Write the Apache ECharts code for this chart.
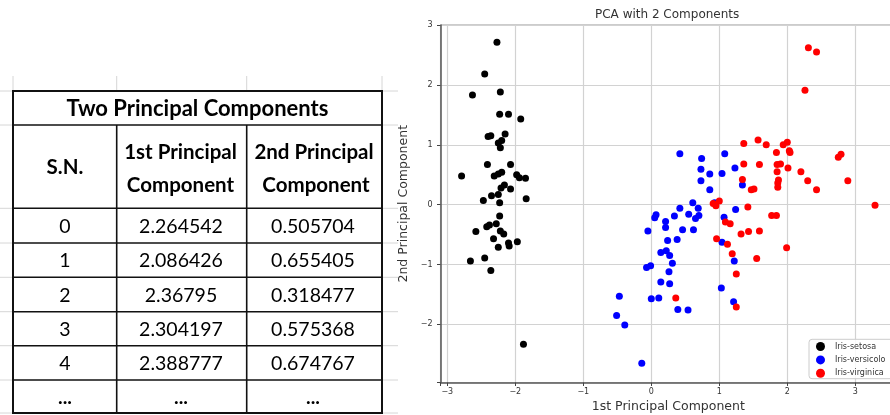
<!DOCTYPE html>
<html>
<head>
<meta charset="utf-8">
<script src="https://cdn.jsdelivr.net/npm/echarts@6/dist/echarts.min.js"></script>
<style>
html,body{margin:0;padding:0;background:#fff;}
#main{width:890px;height:415px;}
</style>
</head>
<body>
<div id="main"></div>
<script>
// ---- Table data ----
const tableTitle = 'Two Principal Components';
const headSN = 'S.N.';
const headPC1 = ['1st Principal', 'Component'];
const headPC2 = ['2nd Principal', 'Component'];
const rowSN  = ['0', '1', '2', '3', '4', '...'];
const rowPC1 = ['2.264542', '2.086426', '2.36795', '2.304197', '2.388777', '...'];
const rowPC2 = ['0.505704', '0.655405', '0.318477', '0.575368', '0.674767', '...'];

// ---- Scatter data ----
const chartTitle = 'PCA with 2 Components';
const xName = '1st Principal Component';
const yName = '2nd Principal Component';
const speciesNames = ['Iris-setosa', 'Iris-versicolor', 'Iris-virginica'];
const setosa = [
 [-2.27,2.71],[-2.45,2.18],[-2.63,1.83],[-2.22,1.88],[-2.23,1.51],[-2.10,1.51],[-1.92,1.43],
 [-2.40,1.14],[-2.36,1.15],[-2.15,1.18],[-2.20,1.07],[-2.25,1.03],[-2.22,0.95],[-2.41,0.67],
 [-2.07,0.67],[-2.79,0.48],[-2.31,0.48],[-2.25,0.51],[-2.20,0.54],[-1.98,0.50],[-1.94,0.45],
 [-1.85,0.44],[-2.16,0.33],[-2.21,0.28],[-2.07,0.26],[-2.35,0.15],[-2.25,0.17],[-2.47,0.07],
 [-2.23,0.03],[-1.84,0.10],[-2.23,-0.19],[-2.28,-0.32],[-2.38,-0.34],[-2.42,-0.37],[-2.58,-0.45],
 [-2.22,-0.44],[-2.17,-0.49],[-2.32,-0.57],[-2.10,-0.64],[-2.09,-0.69],[-1.97,-0.62],[-2.25,-0.71],
 [-2.45,-0.89],[-2.66,-0.94],[-2.36,-1.10],[-1.88,-2.33]
];
const versicolor = [
 [0.42,0.85],[0.74,0.77],[1.08,0.85],[0.73,0.59],[0.86,0.51],[1.04,0.52],[1.23,0.61],[0.73,0.40],
 [0.86,0.25],[1.34,0.33],[0.61,0.03],[0.42,-0.06],[0.69,-0.06],[0.93,0.03],[1.24,-0.08],[0.07,-0.17],
 [0.05,-0.22],[0.34,-0.19],[0.55,-0.16],[0.70,-0.18],[0.65,-0.23],[0.21,-0.28],[0.21,-0.38],[-0.05,-0.44],
 [0.46,-0.42],[0.62,-0.42],[1.07,-0.21],[0.24,-0.60],[0.38,-0.58],[1.04,-0.63],[0.14,-0.80],[0.22,-0.77],
 [0.27,-0.85],[0.31,-0.98],[-0.07,-1.05],[-0.01,-1.02],[0.26,-1.12],[0.14,-1.29],[0.27,-1.32],[1.22,-0.94],
 [1.03,-1.39],[-0.47,-1.53],[0.00,-1.57],[0.11,-1.56],[1.21,-1.62],[0.39,-1.75],[0.54,-1.76],[-0.51,-1.85],
 [-0.39,-2.01],[-0.14,-2.65]
];
const virginica = [
 [2.31,2.62],[2.43,2.55],[2.26,1.91],[1.57,1.08],[1.36,1.02],[1.69,1.00],[1.94,1.00],[2.00,1.04],
 [2.03,0.90],[2.04,0.87],[1.84,0.87],[2.79,0.84],[2.75,0.79],[1.36,0.68],[1.59,0.67],[1.85,0.67],
 [1.90,0.68],[2.01,0.61],[1.85,0.55],[2.20,0.55],[1.34,0.42],[1.87,0.41],[1.86,0.36],[2.30,0.40],
 [2.89,0.40],[1.47,0.25],[1.51,0.26],[1.86,0.29],[2.43,0.25],[1.42,-0.04],[3.29,-0.01],[0.91,0.02],
 [0.95,-0.02],[1.00,0.06],[1.09,-0.29],[1.16,-0.32],[1.32,-0.49],[1.43,-0.45],[0.96,-0.57],[1.12,-0.66],
 [1.77,-0.18],[1.84,-0.18],[1.59,-0.44],[1.19,-0.82],[1.55,-0.90],[1.25,-1.16],[0.36,-1.56],[1.25,-1.71],
 [1.99,-0.72]
];
const xMin = -3.1, xMax = 3.6, yMin = -2.97, yMax = 3.0;

// ---- Table layout ----
const TL = 13, TR = 382, TT = 91, TB = 413;
const colX = [116.7, 246.7];
const rowLines = [125, 208.3, 243, 277.3, 311.7, 345.7, 380];
const colCenter = [65, 181, 313];
const rowCenter = [227, 261, 296, 330, 364, 398];
const FONT = 'Lato, "Open Sans", sans-serif';
const faint = '#d6d6d6';

const g = [];
// faint spreadsheet lines
[TT, 125, 208.3, 243, 277.3, 311.7, 345.7, 380, TB].forEach(y => {
  g.push({type:'line', shape:{x1:0,y1:y,x2:TL,y2:y}, style:{stroke:faint,lineWidth:1}, silent:true});
  g.push({type:'line', shape:{x1:TR,y1:y,x2:398,y2:y}, style:{stroke:faint,lineWidth:1}, silent:true});
});
[TL, 116.7, 246.7, TR].forEach(x => {
  g.push({type:'line', shape:{x1:x,y1:76,x2:x,y2:TT}, style:{stroke:faint,lineWidth:1}, silent:true});
});
// borders
g.push({type:'rect', shape:{x:TL,y:TT,width:TR-TL,height:TB-TT}, style:{fill:'none',stroke:'#111',lineWidth:2}, silent:true});
rowLines.forEach(y => g.push({type:'line', shape:{x1:TL,y1:y,x2:TR,y2:y}, style:{stroke:'#111',lineWidth:1.6}, silent:true}));
colX.forEach(x => g.push({type:'line', shape:{x1:x,y1:125,x2:x,y2:TB}, style:{stroke:'#111',lineWidth:1.6}, silent:true}));
function txt(t, x, y, size, bold) {
  g.push({type:'text', x:x, y:y, silent:true,
    style:{text:t, fill:'#000', fontSize:size, fontFamily:FONT, fontWeight:bold?'bold':'normal', align:'center', verticalAlign:'middle'}});
}
txt(tableTitle, (TL+TR)/2, 109, 22, true);
txt(headSN, colCenter[0], 167, 20.5, true);
txt(headPC1[0], 180.5, 152, 20.5, true);
txt(headPC1[1], 180.5, 185, 20.5, true);
txt(headPC2[0], 314, 152, 20.5, true);
txt(headPC2[1], 316, 185, 20.5, true);
rowSN.forEach((v,i) => txt(v, colCenter[0], rowCenter[i], 19.5, v==='...'));
rowPC1.forEach((v,i) => txt(v, colCenter[1], rowCenter[i], 19.5, v==='...'));
rowPC2.forEach((v,i) => txt(v, colCenter[2], rowCenter[i], 19.5, v==='...'));

// legend frame (extends past the right edge like the reference)
g.push({type:'rect', z: 3, silent:true, shape:{x:809, y:339.3, width:120, height:39.4, r:3},
  style:{fill:'rgba(255,255,255,0.85)', stroke:'#cccccc', lineWidth:1}});

const AX_FONT = '"DejaVu Sans", sans-serif';
const intLabel = v => (Math.abs(v - Math.round(v)) < 1e-6 ? String(Math.round(v)).replace('-', '\u2212') : '');

const chart = echarts.init(document.getElementById('main'), null, {renderer:'canvas'});
chart.setOption({
  animation: false,
  backgroundColor: '#fff',
  title: {
    text: chartTitle, left: 595, top: 9, padding: 0,
    textStyle: {fontFamily: AX_FONT, fontSize: 12, fontWeight: 'normal', color: '#333'}
  },
  legend: {
    data: speciesNames, orient: 'vertical', left: 816, top: 340, z: 6,
    icon: 'circle', itemWidth: 9, itemHeight: 9, itemGap: 3.4,
    padding: [1.5, 0, 2, 0],
    borderWidth: 0, backgroundColor: 'transparent',
    textStyle: {fontFamily: AX_FONT, fontSize: 8, color: '#333', lineHeight: 10,
                padding: [0, 0, 0, 5], width: 54, overflow: 'truncate', ellipsis: ''}
  },
  grid: {left: 440.5, top: 25, width: 455.6, height: 357.5, show: true, borderColor: '#999', borderWidth: 1,
         containLabel: false, outerBoundsMode: 'none'},
  xAxis: {
    type: 'value', min: xMin, max: xMax, splitNumber: 7,
    name: xName, nameLocation: 'middle', nameGap: 15,
    nameTextStyle: {fontFamily: AX_FONT, fontSize: 12.5, color: '#333', verticalAlign: 'top'},
    axisLine: {show: true, onZero: false, lineStyle: {color: '#555', width: 1.5}},
    axisTick: {show: true, length: 3.5, lineStyle: {color: '#444'}},
    axisLabel: {fontFamily: AX_FONT, fontSize: 8, color: '#333', margin: 5, formatter: intLabel, showMinLabel: true, showMaxLabel: true},
    splitLine: {show: true, lineStyle: {color: '#d2d2d2', width: 1.2}}
  },
  yAxis: {
    type: 'value', min: yMin, max: yMax, splitNumber: 6,
    name: yName, nameLocation: 'middle', nameGap: 16, nameRotate: 90,
    nameTextStyle: {fontFamily: AX_FONT, fontSize: 12.5, color: '#333'},
    axisLine: {show: true, onZero: false, lineStyle: {color: '#555', width: 1.5}},
    axisTick: {show: true, length: 3.5, lineStyle: {color: '#444'}},
    axisLabel: {fontFamily: AX_FONT, fontSize: 8, color: '#333', margin: 8, formatter: intLabel, showMinLabel: true, showMaxLabel: true},
    splitLine: {show: true, lineStyle: {color: '#d2d2d2', width: 1.2}}
  },
  series: [
    {name: speciesNames[0], type: 'scatter', data: setosa, symbolSize: 7, itemStyle: {color: '#000000', opacity: 1}},
    {name: speciesNames[1], type: 'scatter', data: versicolor, symbolSize: 7, itemStyle: {color: '#0000ff', opacity: 1}},
    {name: speciesNames[2], type: 'scatter', data: virginica, symbolSize: 7, itemStyle: {color: '#ff0000', opacity: 1}}
  ],
  graphic: {elements: g}
});
</script>
</body>
</html>
